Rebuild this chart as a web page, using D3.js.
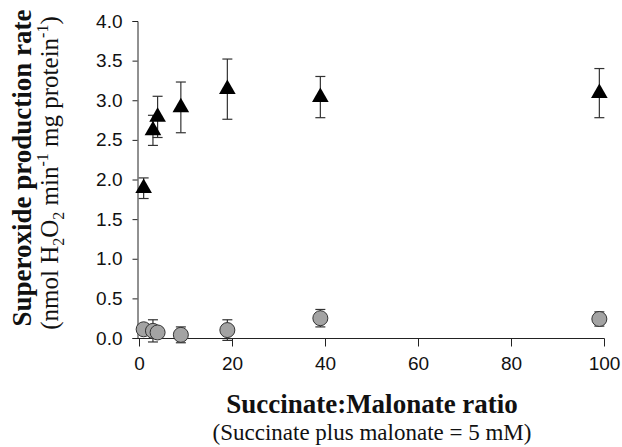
<!DOCTYPE html>
<html>
<head>
<meta charset="utf-8">
<script src="https://cdn.jsdelivr.net/npm/d3@7"></script>
<style>
    body { margin: 0; background: #fff; }
    .tick text { font-family: Arial, "Liberation Sans", sans-serif; font-size: 19px; fill: #111; }
    .serif { font-family: "Times New Roman", "Liberation Serif", serif; fill: #111; }
</style>
</head>
<body>
<div id="graph1"></div>
<script>
// Ratios on the x axis
const ratios = [1, 3, 4, 9, 19, 39, 99];
// Succinate + malonate (triangles)
const triMean = [1.89, 2.62, 2.79, 2.91, 3.14, 3.04, 3.09];
const triErr = [0.13, 0.19, 0.26, 0.32, 0.38, 0.26, 0.31];
// Control (grey circles)
const circMean = [0.11, 0.09, 0.07, 0.04, 0.10, 0.25, 0.24];
const circErr = [0.00, 0.14, 0.00, 0.10, 0.13, 0.11, 0.09];
const xTicks = [0, 20, 40, 60, 80, 100];
const yTicks = [0, 0.5, 1, 1.5, 2, 2.5, 3, 3.5, 4];

const width = 622, height = 447;

let svg = d3.select("#graph1")
    .append("svg")
    .attr("width", width)
    .attr("height", height);

let x = d3.scaleLinear().domain([0, 100]).range([139, 604]);
let y = d3.scaleLinear().domain([0, 4]).range([338, 21]);

// y axis
svg.append("g")
    .attr("transform", "translate(137.5,0)")
    .call(d3.axisLeft(y).tickValues(yTicks).tickFormat(d3.format(".1f")).tickSize(5).tickPadding(10))
    .call(g => g.select(".domain").attr("stroke", "#222"));

// x axis
svg.append("g")
    .attr("transform", "translate(0,338.5)")
    .call(d3.axisBottom(x).tickValues(xTicks).tickSize(8).tickSizeOuter(0).tickPadding(10))
    .call(g => g.select(".domain").attr("d", `M137.5,0H${x(100) + 0.5}`).attr("stroke", "#222"));

svg.selectAll(".tick line").attr("stroke", "#222");

function drawSeries(mean, err, cls) {
    let data = ratios.map((r, i) => ({r: r, m: mean[i], e: err[i]}));
    let g = svg.append("g").attr("class", cls);
    let eb = g.selectAll("g.err").data(data.filter(d => d.e > 0)).enter().append("g").attr("class", "err");
    eb.append("line")
        .attr("x1", d => x(d.r)).attr("x2", d => x(d.r))
        .attr("y1", d => y(d.m + d.e)).attr("y2", d => y(d.m - d.e))
        .attr("stroke", "#333").attr("stroke-width", 1.2);
    [1, -1].forEach(s => {
        eb.append("line")
            .attr("x1", d => x(d.r) - 5).attr("x2", d => x(d.r) + 5)
            .attr("y1", d => y(d.m + s * d.e)).attr("y2", d => y(d.m + s * d.e))
            .attr("stroke", "#333").attr("stroke-width", 1.2);
    });
    return {g: g, data: data};
}

let circles = drawSeries(circMean, circErr, "circ");
circles.g.selectAll("circle").data(circles.data).enter().append("circle")
    .attr("cx", d => x(d.r)).attr("cy", d => y(d.m))
    .attr("r", 7.5)
    .attr("fill", "#a3a3a3")
    .attr("stroke", "#333")
    .attr("stroke-width", 1);

let tris = drawSeries(triMean, triErr, "tri");
let triangle = d3.symbol().type(d3.symbolTriangle).size(120);
tris.g.selectAll("path.mark").data(tris.data).enter().append("path")
    .attr("class", "mark")
    .attr("d", triangle)
    .attr("transform", d => `translate(${x(d.r)},${y(d.m)})`)
    .attr("fill", "#000");

// y axis title
svg.append("text")
    .attr("class", "serif")
    .attr("transform", "translate(31,168) rotate(-90)")
    .attr("text-anchor", "middle")
    .style("font-size", "27px")
    .style("font-weight", "bold")
    .text("Superoxide production rate");

let yt2 = svg.append("text")
    .attr("class", "serif")
    .attr("transform", "translate(58,173) rotate(-90)")
    .attr("text-anchor", "middle")
    .style("font-size", "25px");
yt2.append("tspan").text("(nmol H");
yt2.append("tspan").attr("dy", 6).style("font-size", "16px").text("2");
yt2.append("tspan").attr("dy", -6).text("O");
yt2.append("tspan").attr("dy", 6).style("font-size", "16px").text("2");
yt2.append("tspan").attr("dy", -6).text("  min");
yt2.append("tspan").attr("dy", -10).style("font-size", "16px").text("-1");
yt2.append("tspan").attr("dy", 10).text("  mg protein");
yt2.append("tspan").attr("dy", -10).style("font-size", "16px").text("-1");
yt2.append("tspan").attr("dy", 10).text(")");

// x axis title
svg.append("text")
    .attr("class", "serif")
    .attr("x", 372).attr("y", 413)
    .attr("text-anchor", "middle")
    .style("font-size", "27px")
    .style("font-weight", "bold")
    .text("Succinate:Malonate ratio");

svg.append("text")
    .attr("class", "serif")
    .attr("x", 372).attr("y", 440)
    .attr("text-anchor", "middle")
    .style("font-size", "23px")
    .text("(Succinate plus malonate = 5 mM)");
</script>
</body>
</html>
